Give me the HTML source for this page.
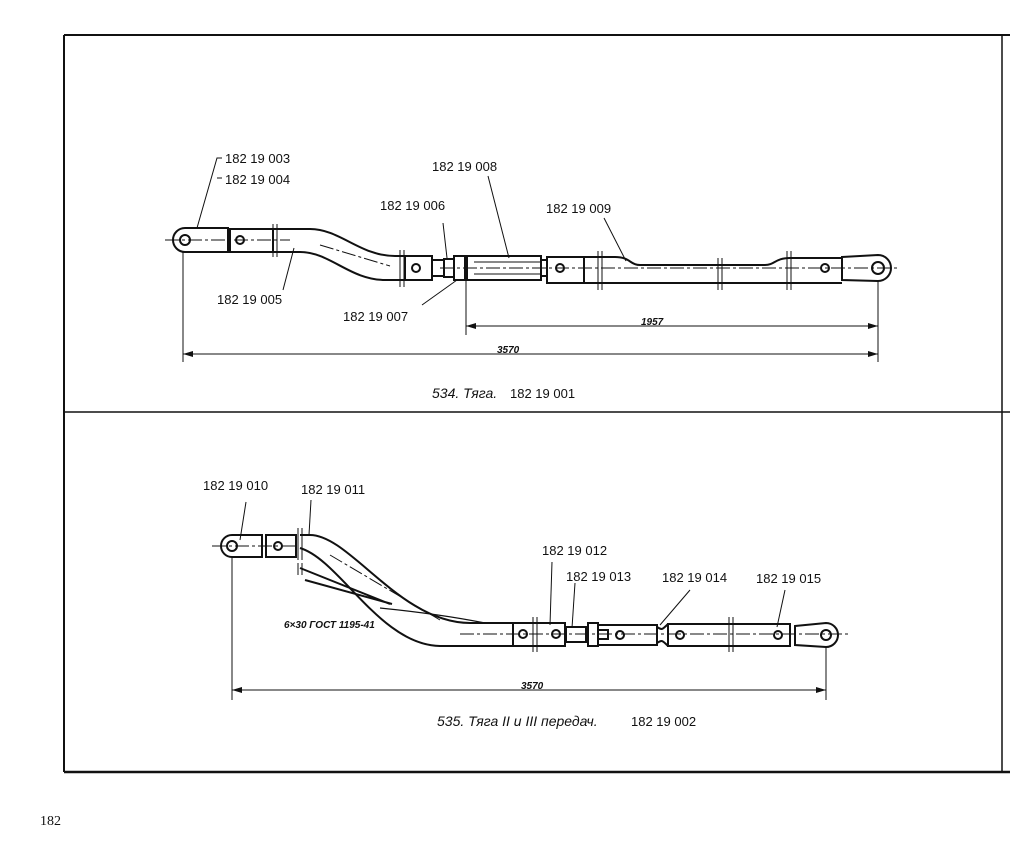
<!DOCTYPE html>
<html><head><meta charset="utf-8"><style>
html,body{margin:0;padding:0;background:#fff}
svg{display:block}
text{font-family:"Liberation Sans",sans-serif;font-size:13px;fill:#111}
.it{font-style:italic}
</style></head><body>
<svg width="1024" height="841" viewBox="0 0 1024 841" xmlns="http://www.w3.org/2000/svg">
<g stroke="#111" fill="none">
<!-- frame -->
<line x1="64" y1="35" x2="1010" y2="35" stroke-width="2"/>
<line x1="64" y1="35" x2="64" y2="772" stroke-width="2"/>
<line x1="1002" y1="35" x2="1002" y2="772" stroke-width="1.5"/>
<line x1="64" y1="772" x2="1010" y2="772" stroke-width="2.5"/>
<line x1="64" y1="412" x2="1010" y2="412" stroke-width="1.5"/>

<!-- ===== TOP ROD ===== -->
<g stroke-width="2">
<!-- left eye fork -->
<path d="M228,228 L185,228 A12,12 0 0 0 185,252 L228,252 Z"/>
<circle cx="185" cy="240" r="5"/>
<rect x="230" y="229" width="43" height="23"/>
<circle cx="240" cy="240" r="4"/>
<!-- bent rod -->
<path d="M273,229 L310,229 C340,229 360,256 395,256 L432,256"/>
<path d="M273,252 L300,252 C330,252 350,280 385,280 L432,280"/>
<rect x="405" y="256" width="27" height="24"/>
<circle cx="416" cy="268" r="4"/>
<rect x="432" y="260" width="12" height="16"/>
<rect x="444" y="259" width="10" height="18"/>
<rect x="454" y="256" width="11" height="24"/>
<rect x="467" y="256" width="74" height="24"/>
<line x1="474" y1="262" x2="541" y2="262" stroke-width="1"/>
<line x1="474" y1="274" x2="541" y2="274" stroke-width="1"/>
<rect x="541" y="260" width="6" height="16"/>
<rect x="547" y="257" width="37" height="26"/>
<circle cx="560" cy="268" r="4"/>
<!-- long rod with reduced section -->
<path d="M584,257 L615,257 C630,257 630,265 640,265 L765,265 C775,265 775,258 790,258 L842,258"/>
<path d="M584,283 L842,283"/>
<circle cx="825" cy="268" r="4"/>
<path d="M842,257 L878,255 A13,13 0 0 1 878,281 L842,280 Z"/>
<circle cx="878" cy="268" r="6"/>
</g>
<!-- break marks top -->
<g stroke-width="1">
<line x1="273" y1="224" x2="273" y2="257"/><line x1="277" y1="224" x2="277" y2="257"/>
<line x1="400" y1="250" x2="400" y2="287"/><line x1="404" y1="250" x2="404" y2="287"/>
<line x1="598" y1="251" x2="598" y2="290"/><line x1="602" y1="251" x2="602" y2="290"/>
<line x1="718" y1="258" x2="718" y2="290"/><line x1="722" y1="258" x2="722" y2="290"/>
<line x1="787" y1="251" x2="787" y2="290"/><line x1="791" y1="251" x2="791" y2="290"/>
<path d="M165,240 L290,240 M320,245 L390,266 M440,268 L900,268" stroke-dasharray="14,3,3,3"/>
<!-- dimension lines -->
<line x1="183" y1="252" x2="183" y2="362"/>
<line x1="878" y1="281" x2="878" y2="362"/>
<line x1="466" y1="280" x2="466" y2="335"/>
<line x1="183" y1="354" x2="878" y2="354"/>
<line x1="466" y1="326" x2="878" y2="326"/>
<!-- leaders -->
<path d="M222,158 L217,158 L197,228 M217,178 L222,178"/>
<line x1="294" y1="248" x2="283" y2="290"/>
<line x1="443" y1="223" x2="447" y2="258"/>
<line x1="488" y1="176" x2="509" y2="258"/>
<line x1="604" y1="218" x2="626" y2="261"/>
<line x1="422" y1="305" x2="457" y2="280"/>
</g>
<g fill="#111" stroke="none">
<path d="M183,354 l10,-3 v6 z M878,354 l-10,-3 v6 z M466,326 l10,-3 v6 z M878,326 l-10,-3 v6 z"/>
</g>

<!-- ===== BOTTOM ROD ===== -->
<g stroke-width="2">
<path d="M262,535 L232,535 A11,11 0 0 0 232,557 L262,557 Z"/>
<circle cx="232" cy="546" r="5"/>
<rect x="266" y="535" width="30" height="22"/>
<circle cx="278" cy="546" r="4"/>
<path d="M300,535 L310,535 C350,535 400,623 470,623 L513,623"/>
<path d="M300,548 C340,560 380,645 440,646 L513,646"/>
<path d="M300,568 L390,604 M305,580 L392,604"/>
<path d="M380,608 C420,612 460,618 485,623" stroke-width="1.3"/>
<rect x="513" y="623" width="52" height="23"/>
<circle cx="523" cy="634" r="4"/><circle cx="556" cy="634" r="4"/>
<rect x="566" y="627" width="20" height="15"/>
<rect x="588" y="623" width="10" height="23"/>
<rect x="598" y="625" width="59" height="20"/>
<rect x="598" y="630" width="10" height="9"/>
<circle cx="620" cy="635" r="4"/>
<path d="M657,627 C662,630 662,630 668,624 M657,643 C662,640 662,640 668,646"/>
<rect x="668" y="624" width="122" height="22"/>
<circle cx="680" cy="635" r="4"/><circle cx="778" cy="635" r="4"/>
<path d="M795,626 L826,623 A12,12 0 0 1 826,647 L795,645 Z"/>
<circle cx="826" cy="635" r="5"/>
</g>
<g stroke-width="1">
<line x1="298" y1="528" x2="298" y2="560"/><line x1="302" y1="528" x2="302" y2="560"/>
<line x1="298" y1="563" x2="298" y2="575"/><line x1="302" y1="563" x2="302" y2="575"/>
<line x1="533" y1="617" x2="533" y2="652"/><line x1="537" y1="617" x2="537" y2="652"/>
<line x1="729" y1="617" x2="729" y2="652"/><line x1="733" y1="617" x2="733" y2="652"/>
<path d="M212,546 L296,546 M330,555 L440,620 M460,634 L850,634" stroke-dasharray="14,3,3,3"/>
<line x1="232" y1="557" x2="232" y2="700"/>
<line x1="826" y1="647" x2="826" y2="700"/>
<line x1="232" y1="690" x2="826" y2="690"/>
<line x1="246" y1="502" x2="240" y2="540"/>
<line x1="311" y1="500" x2="309" y2="535"/>
<line x1="552" y1="562" x2="550" y2="625"/>
<line x1="575" y1="583" x2="572" y2="628"/>
<line x1="690" y1="590" x2="660" y2="625"/>
<line x1="785" y1="590" x2="777" y2="627"/>
</g>
<g fill="#111" stroke="none">
<path d="M232,690 l10,-3 v6 z M826,690 l-10,-3 v6 z"/>
</g>
</g>

<!-- labels top -->
<text x="225" y="163">182 19 003</text>
<text x="225" y="184">182 19 004</text>
<text x="432" y="171">182 19 008</text>
<text x="380" y="210">182 19 006</text>
<text x="546" y="213">182 19 009</text>
<text x="217" y="304">182 19 005</text>
<text x="343" y="321">182 19 007</text>
<text x="641" y="325" class="it" style="font-size:10px;font-weight:bold">1957</text>
<text x="497" y="353" class="it" style="font-size:10px;font-weight:bold">3570</text>
<text x="432" y="398" class="it" style="font-size:14px">534. Тяга.</text>
<text x="510" y="398">182 19 001</text>

<!-- labels bottom -->
<text x="203" y="490">182 19 010</text>
<text x="301" y="494">182 19 011</text>
<text x="542" y="555">182 19 012</text>
<text x="566" y="581">182 19 013</text>
<text x="662" y="582">182 19 014</text>
<text x="756" y="583">182 19 015</text>
<text x="284" y="628" class="it" style="font-size:10px;font-weight:bold">6×30 ГОСТ 1195-41</text>
<text x="521" y="689" class="it" style="font-size:10px;font-weight:bold">3570</text>
<text x="437" y="726" class="it" style="font-size:14px">535. Тяга II и III передач.</text>
<text x="631" y="726">182 19 002</text>

<text x="40" y="825" style="font-size:14px;font-family:'Liberation Serif',serif">182</text>
</svg>
</body></html>
